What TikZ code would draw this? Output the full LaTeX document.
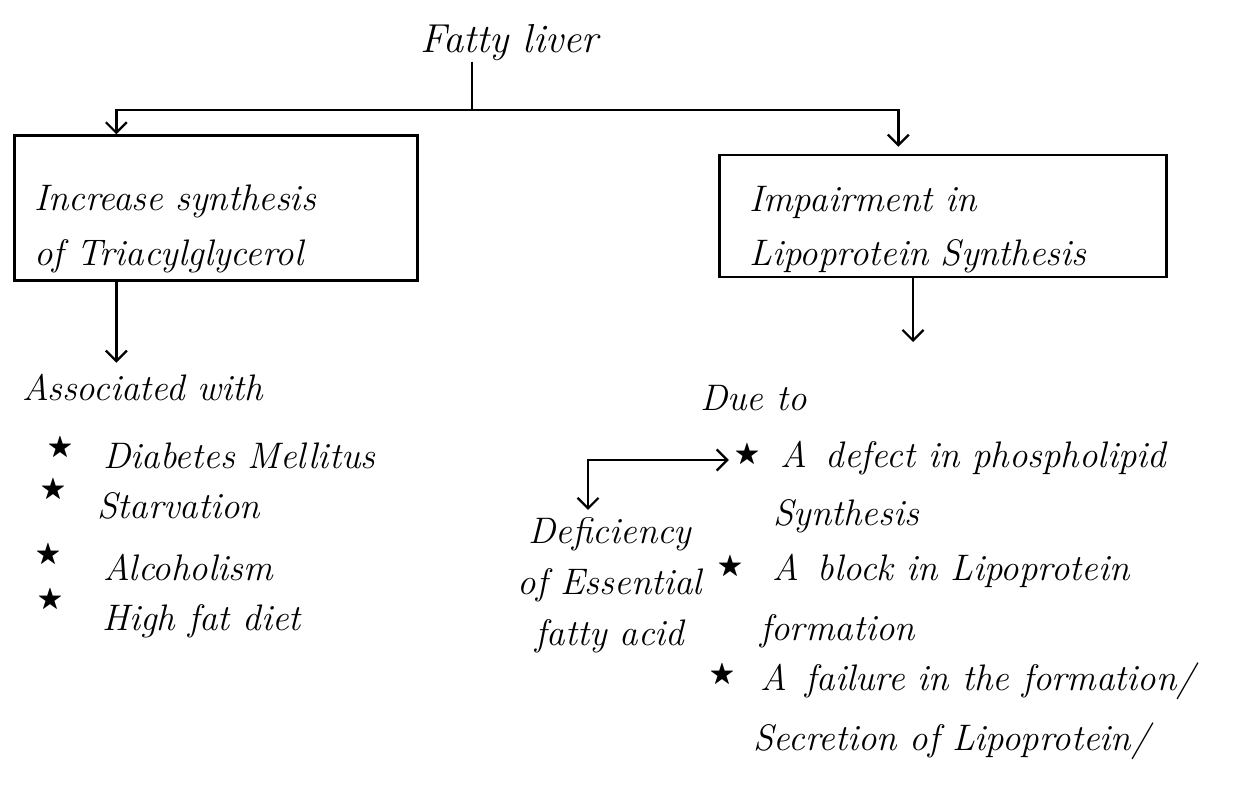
\documentclass[tikz,border=0pt]{standalone}
\usepackage{amssymb}
\usetikzlibrary{arrows.meta,positioning}

\begin{document}
\begin{tikzpicture}[x=0.2mm, y=-0.2mm,
        hand/.style={font=\fontsize{21}{31}\selectfont\itshape, inner sep=0pt},
        starmark/.style={font=\fontsize{15}{15}\selectfont, inner sep=0pt},
        box/.style={draw, line width=1.3pt, hand, align=left},
        link/.style={line width=1.3pt, >={Straight Barb[length=6pt,width=12pt]}}]
    \useasboundingbox (0,0) rectangle (1252,805);

    \node[hand, font=\fontsize{23}{31}\selectfont\itshape, anchor=base west] (title) at (420,53) {Fatty liver};

    \node[box, minimum width=8.06cm, minimum height=2.9cm, inner xsep=0.4cm, text width=7.26cm, text depth=0.4cm] (incr) at (216,208) {Increase synthesis\\of Triacylglycerol};
    \node[box, minimum width=8.94cm, minimum height=2.44cm, inner xsep=0.6cm, text width=7.74cm, text depth=0.7cm] (impair) at (943,216) {Impairment in\\Lipoprotein Synthesis};

    \coordinate (split) at (472,110);
    \draw[link] (title.south -| split) -- (split);
    \draw[link,->] (split) -| ([xshift=2.06cm]incr.north west);
    \draw[link,->,shorten >=4pt] (split) -| ([xshift=3.6cm]impair.north west);

    % left branch
    \node[hand, anchor=base west] (assoc) at (22,400) {Associated with};
    \draw[link,->,shorten >=6pt] ([xshift=2.06cm]incr.south west) coordinate (a) -- (a |- assoc.north);

    \node[starmark] (l1s) at (60,448) {$\bigstar$};
    \node[starmark] (l2s) at (53,490) {$\bigstar$};
    \node[starmark] (l3s) at (48,555) {$\bigstar$};
    \node[starmark] (l4s) at (50,600) {$\bigstar$};
    \node[hand, anchor=base west] (l1) at (103,468) {Diabetes Mellitus};
    \node[hand, anchor=base west] (l2) at (97,518) {Starvation};
    \node[hand, anchor=base west] (l3) at (103,580) {Alcoholism};
    \node[hand, anchor=base west] (l4) at (102,630) {High fat diet};

    % right branch
    \coordinate (dueend) at (913,342);
    \node[hand, anchor=base west] (due) at (700,410) {Due to};
    \draw[link,->] (dueend |- impair.south) -- (dueend);

    \node[starmark] (r1s) at (747,455) {$\bigstar$};
    \node[starmark] (r2s) at (730,567) {$\bigstar$};
    \node[starmark] (r3s) at (722,675) {$\bigstar$};
    \node[hand, anchor=base west] (r1) at (780,467) {A\enspace defect in phospholipid};
    \node[hand, anchor=base west] (r1b) at (773,525) {Synthesis};
    \node[hand, anchor=base west] (r2) at (772,580) {A\enspace block in Lipoprotein};
    \node[hand, anchor=base west] (r2b) at (760,640) {formation};
    \node[hand, anchor=base west] (r3) at (760,690) {A\enspace failure in the formation/};
    \node[hand, anchor=base west] (r3b) at (753,750) {Secretion of Lipoprotein/};

    \node[hand, font=\fontsize{21}{29}\selectfont\itshape, align=center, anchor=north] (defic) at (610,517) {Deficiency\\of Essential\\fatty acid};
    \coordinate (bend) at (588,460);
    \draw[link,<->,shorten <=4pt,shorten >=3pt] (bend |- defic.north) -- (bend) -- (bend -| r1s.west);
\end{tikzpicture}
\end{document}
